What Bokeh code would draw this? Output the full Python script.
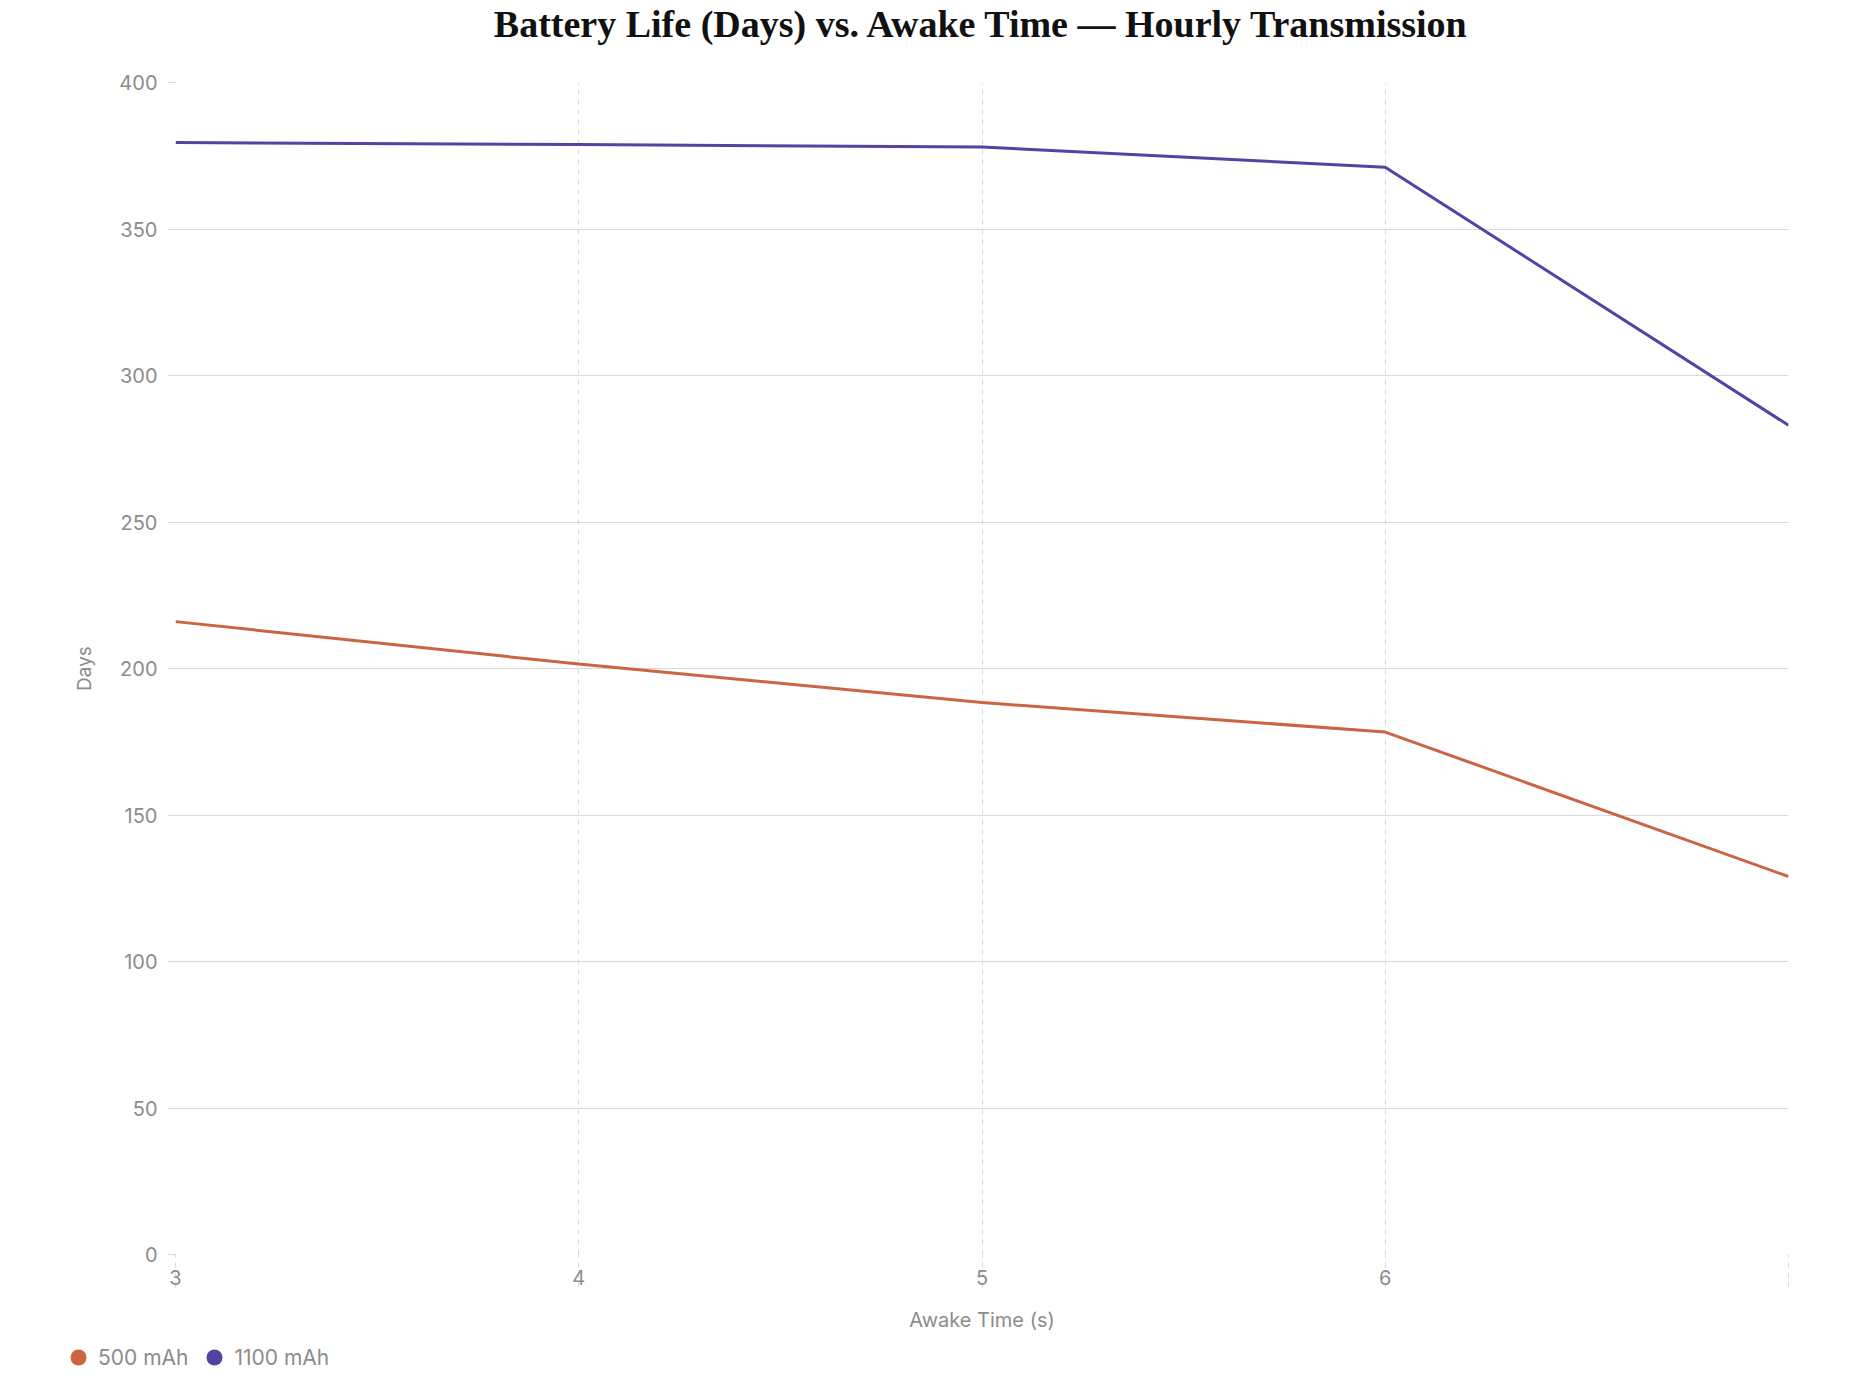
from bokeh.plotting import figure
from bokeh.models import Legend, LegendItem, Range1d, FixedTicker, Title
from bokeh.layouts import column, row
from bokeh.embed import file_html
from bokeh.resources import INLINE

awake_time = [3, 4, 5, 6, 7]
days_500 = [216, 201.5, 188.4, 178.3, 129]
days_1100 = [379.5, 378.8, 378.0, 371.1, 283]
x_ticks = [3, 4, 5, 6, 7]
y_ticks = [0, 50, 100, 150, 200, 250, 300, 350, 400]
series_labels = ["500 mAh", "1100 mAh"]
title_text = "Battery Life (Days) vs. Awake Time \u2014 Hourly Transmission"

ORANGE = "#CD6441"
PURPLE = "#5244A2"
GRAY = "#8c8c8c"
GRID = "#d9d9d9"
SANS = "Inter"

p = figure(frame_width=1613, frame_height=1172, output_backend="svg", toolbar_location=None,
           x_range=Range1d(3, 7), y_range=Range1d(0, 400), title=None,
           min_border_left=175, min_border_right=72, min_border_top=0, min_border_bottom=81)
p.outline_line_color = None
p.background_fill_color = "white"
p.border_fill_color = "white"

# spacer between title and plot area (nearest the frame), then the real title
spacer = Title(text=" ", text_font_size="20px", standoff=14)
p.add_layout(spacer, "above")
main_title = Title(text=title_text, align="center", text_font="Liberation Serif",
                   text_font_style="bold", text_font_size="38px", text_color="#111111",
                   standoff=0)
p.add_layout(main_title, "above")

p.line(awake_time, days_500, line_color=ORANGE, line_width=3)
p.line(awake_time, days_1100, line_color=PURPLE, line_width=3)

# grids
p.ygrid.ticker = FixedTicker(ticks=y_ticks)
p.ygrid.grid_line_color = GRID
p.ygrid.grid_line_width = 1
p.xgrid.ticker = FixedTicker(ticks=x_ticks)
p.xgrid.grid_line_color = GRID
p.xgrid.grid_line_dash = "5 5"

# y axis
ya = p.yaxis[0]
ya.ticker = FixedTicker(ticks=y_ticks)
ya.axis_line_color = None
ya.major_tick_line_color = GRID
ya.major_tick_out = 8
ya.major_tick_in = 0
ya.minor_tick_line_color = None
ya.major_label_text_font = SANS
ya.major_label_text_font_size = "20px"
ya.major_label_text_color = GRAY
ya.major_label_standoff = 10
ya.axis_label = "Days"
ya.axis_label_text_font = SANS
ya.axis_label_text_font_size = "19px"
ya.axis_label_text_font_style = "normal"
ya.axis_label_text_color = GRAY
ya.axis_label_standoff = 20

# x axis
xa = p.xaxis[0]
xa.ticker = FixedTicker(ticks=x_ticks)
xa.major_label_overrides = {7: ""}
xa.axis_line_color = None
xa.major_tick_line_color = GRID
xa.major_tick_line_dash = "5 5"
xa.major_tick_out = 33
xa.major_tick_in = 0
xa.minor_tick_line_color = None
xa.major_label_text_font = SANS
xa.major_label_text_font_size = "20px"
xa.major_label_text_color = GRAY
xa.major_label_text_align = "left"
xa.major_label_standoff = -18
xa.axis_label = "Awake Time (s)"
xa.axis_label_text_font = SANS
xa.axis_label_text_font_size = "20px"
xa.axis_label_text_font_style = "normal"
xa.axis_label_text_color = GRAY
xa.axis_label_standoff = 20

# legend strip below the chart
leg = figure(width=1860, height=59, output_backend="svg", toolbar_location=None,
             x_range=Range1d(3, 7), y_range=Range1d(0, 400), title=None,
             x_axis_type=None, y_axis_type=None, min_border=0,
             min_border_left=0, min_border_right=0, min_border_top=0, min_border_bottom=0)
leg.outline_line_color = None
leg.grid.visible = False
s1 = leg.scatter(awake_time, days_500, size=0, fill_color=ORANGE, line_color=None)
s2 = leg.scatter(awake_time, days_1100, size=0, fill_color=PURPLE, line_color=None)
legend = Legend(items=[LegendItem(label=series_labels[0], renderers=[s1]),
                       LegendItem(label=series_labels[1], renderers=[s2])],
                orientation="horizontal", location=(58, 17),
                glyph_width=40, glyph_height=40, label_standoff=0, spacing=6,
                padding=0, margin=0,
                label_text_font=SANS, label_text_font_size="21px", label_text_color=GRAY,
                border_line_color=None, background_fill_alpha=0)
leg.add_layout(legend, "center")

layout = column(p, row(leg))
open("out.html", "w").write(file_html(layout, INLINE))
